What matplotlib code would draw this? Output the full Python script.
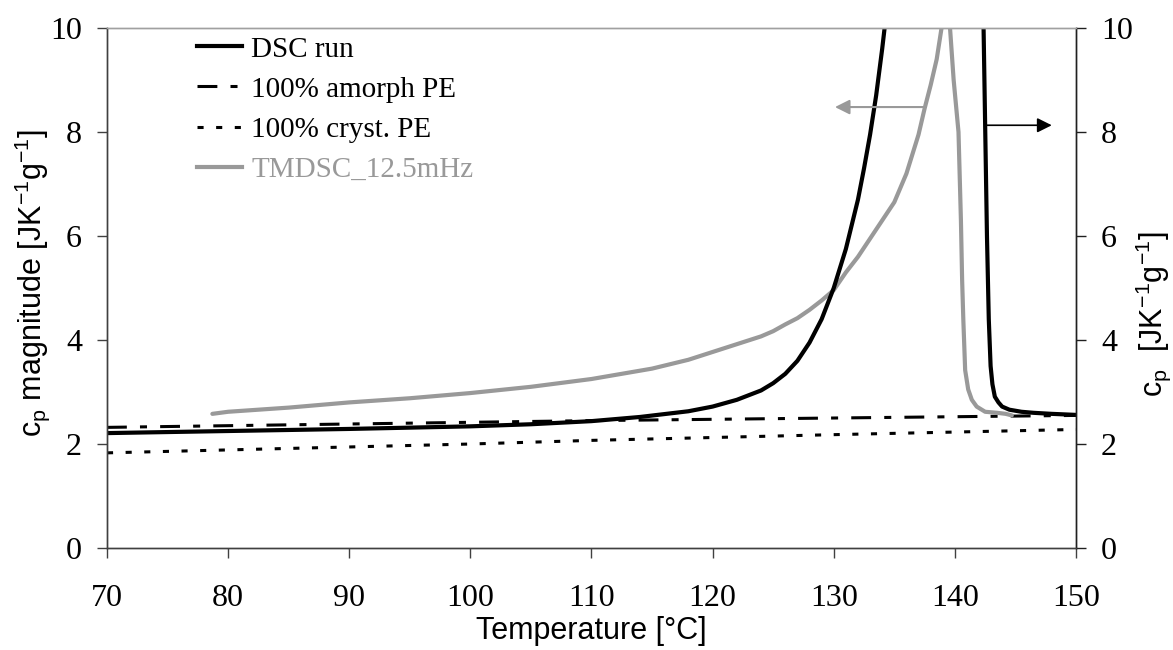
import matplotlib
matplotlib.use("Agg")
import matplotlib.pyplot as plt
from matplotlib.lines import Line2D

# ---- data ----
dsc_rise_T = [70, 80, 90, 100, 105, 110, 114, 118, 120, 122, 124, 125, 126, 127, 128,
              129, 130, 131, 132, 132.5, 133, 133.5, 134, 134.5, 135, 141.8, 142.2]
dsc_rise_cp = [2.21, 2.25, 2.29, 2.34, 2.38, 2.44, 2.52, 2.63, 2.72, 2.85, 3.03, 3.17, 3.35,
               3.6, 3.95, 4.4, 5.0, 5.75, 6.7, 7.3, 7.95, 8.7, 9.6, 10.6, 12.0, 12.0, 10.3]
dsc_fall_T = [142.37, 142.5, 142.65, 142.8, 142.95, 143.1, 143.3, 143.6, 143.9, 144.5,
              145.5, 146.5, 148, 150]
dsc_fall_cp = [10.0, 8.13, 6.0, 4.4, 3.5, 3.15, 2.91, 2.8, 2.72, 2.66, 2.62, 2.6, 2.58, 2.56]

tm_T = [78.7, 80, 85, 90, 95, 100, 105, 110, 115, 118, 120, 122, 124, 125, 126, 127, 128,
        129, 130, 131, 132, 133, 134, 135, 136, 137, 137.5, 138, 138.5, 138.9, 139.25,
        139.6, 139.9, 140.3, 140.5, 140.6, 140.7, 140.85, 141.1, 141.4, 141.8, 142.5,
        143.5, 144.2, 144.7]
tm_cp = [2.58, 2.62, 2.7, 2.8, 2.88, 2.98, 3.1, 3.25, 3.45, 3.62, 3.77, 3.92, 4.07, 4.17,
         4.3, 4.42, 4.58, 4.76, 4.96, 5.3, 5.6, 5.95, 6.3, 6.65, 7.2, 7.95, 8.45, 8.9,
         9.4, 10.0, 10.15, 10.0, 9.0, 8.0, 6.3, 5.15, 4.38, 3.42, 3.05, 2.85, 2.72, 2.62,
         2.6, 2.58, 2.55]

amorph_T = [70, 110, 150]
amorph_cp = [2.32, 2.45, 2.55]
cryst_T = [70, 100, 110, 130, 150]
cryst_cp = [1.83, 2.0, 2.07, 2.18, 2.28]

x_ticks = [70, 80, 90, 100, 110, 120, 130, 140, 150]
y_ticks = [0, 2, 4, 6, 8, 10]
labels = ["DSC run", "100% amorph PE", "100% cryst. PE", "TMDSC_12.5mHz"]

GRAY = "#999999"
SERIF = ["Liberation Serif", "DejaVu Serif"]
SANS = ["Liberation Sans", "DejaVu Sans"]

fig = plt.figure(figsize=(11.73, 6.5), dpi=100)
ax = fig.add_axes([0.0912, 0.1569, 0.8261, 0.8])

amorph_dash = (0, (6.5, 4.3, 2.3, 4.3))
cryst_dash = (0, (2.0, 4.1))

ax.plot(amorph_T, amorph_cp, color="black", lw=2.2, linestyle=amorph_dash)
ax.plot(cryst_T, cryst_cp, color="black", lw=2.2, linestyle=cryst_dash)
ax.plot(tm_T, tm_cp, color=GRAY, lw=3.0, solid_capstyle="round")
ax.plot(dsc_rise_T, dsc_rise_cp, color="black", lw=3.0)
ax.plot(dsc_fall_T, dsc_fall_cp, color="black", lw=3.0)

ax.set_xlim(70, 150)
ax.set_ylim(0, 10)
ax.set_xticks(x_ticks)
ax.set_yticks(y_ticks)

ax2 = ax.twinx()
ax2.set_ylim(0, 10)
ax2.set_yticks(y_ticks)

for a in (ax, ax2):
    a.spines["top"].set_color("#a0a0a0")
    a.spines["left"].set_color("#404040")
    a.spines["bottom"].set_color("#404040")
    a.spines["right"].set_color("#202020")
    for s in a.spines.values():
        s.set_linewidth(1.0)

ax.tick_params(axis="x", direction="out", length=7, width=1, color="#404040", pad=19)
ax.tick_params(axis="y", direction="out", length=7, width=1, color="#404040", pad=11)
ax2.tick_params(axis="y", direction="out", length=7, width=1, color="#202020", pad=11)
for lab in ax.get_xticklabels() + ax.get_yticklabels() + ax2.get_yticklabels():
    lab.set_fontfamily(SERIF)
    lab.set_fontsize(23)

ax.set_xlabel("Temperature [°C]", fontfamily=SANS, fontsize=22)
ax.xaxis.set_label_coords(0.5, -0.131)
ax.set_ylabel(r"$\mathregular{c_p}$ magnitude [JK$\mathregular{^{-1}}$g$\mathregular{^{-1}}$]",
              fontfamily=SANS, fontsize=22)
ax.yaxis.set_label_coords(-0.057, 0.51)
ax2.set_ylabel(r"$\mathregular{c_p}$  [JK$\mathregular{^{-1}}$g$\mathregular{^{-1}}$]",
               fontfamily=SANS, fontsize=22)
ax2.yaxis.set_label_coords(1.059, 0.45)

# arrows indicating axes
ax.annotate("", xy=(130.1, 8.48), xytext=(137.55, 8.48),
            arrowprops=dict(arrowstyle="-|>", color=GRAY, lw=1.5, mutation_scale=22,
                            shrinkA=0, shrinkB=0))
ax.annotate("", xy=(148.0, 8.13), xytext=(142.6, 8.13),
            arrowprops=dict(arrowstyle="-|>", color="black", lw=1.2, mutation_scale=22,
                            shrinkA=0, shrinkB=0))

handles = [
    Line2D([], [], color="black", lw=3.0),
    Line2D([], [], color="black", lw=2.2, linestyle=amorph_dash),
    Line2D([], [], color="black", lw=2.2, linestyle=cryst_dash),
    Line2D([], [], color=GRAY, lw=3.0),
]
leg = ax.legend(handles, labels, loc="upper left", bbox_to_anchor=(0.09, 0.99),
                frameon=False, prop={"family": SERIF, "size": 21},
                handlelength=1.55, handletextpad=0.3, labelspacing=0.47,
                borderpad=0.1, borderaxespad=0)
leg.get_texts()[3].set_color(GRAY)

fig.savefig("out.png", dpi=100)
